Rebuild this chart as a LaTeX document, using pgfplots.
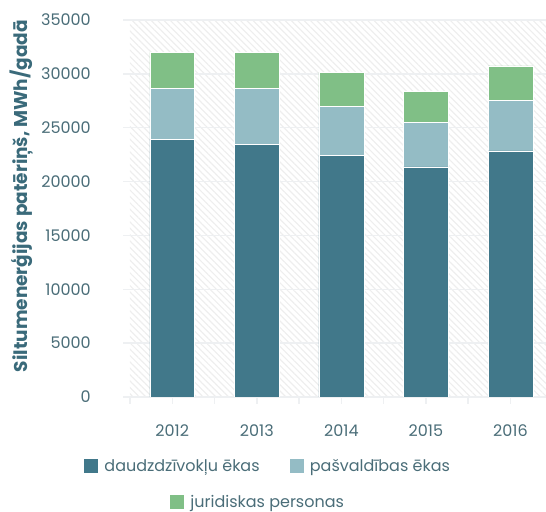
\documentclass[border=0pt]{standalone}
\usepackage{fontspec}
\setmainfont{Poppins}
\usepackage{pgfplots}
\pgfplotsset{compat=1.18}
\usetikzlibrary{patterns.meta}
\definecolor{cdark}{HTML}{41788A}
\definecolor{clight}{HTML}{94BCC5}
\definecolor{cgreen}{HTML}{80BF86}
\definecolor{gridgray}{HTML}{EEF0F2}
\definecolor{hatchgray}{HTML}{EEEEEE}
\definecolor{textcol}{HTML}{4A6D78}
\definecolor{labcol}{HTML}{3A6A7A}
\pgfplotsset{
  sqlegend/.style={legend image code/.code={\fill[##1,draw=none] (0pt,-7pt) rectangle (14pt,7pt); \path (18pt,0pt);}},
}
\begin{document}
\begin{tikzpicture}
\begin{axis}[
  name=main,
  scale only axis,
  width=416pt, height=377pt,
  ybar stacked,
  bar width=0.53,
  xmin=-0.5, xmax=4.42,
  ymin=0, ymax=35000,
  ytick={0,5000,...,35000},
  scaled y ticks=false,
  /pgf/number format/1000 sep={},
  /pgf/number format/assume math mode=true,
  axis lines*=left,
  y axis line style={draw=none},
  x axis line style={draw=gridgray, line width=1.5pt},
  tick align=outside,
  major tick length=7pt,
  ytick style={draw=gridgray, line width=1.5pt},
  xtick={-0.5,0.5,1.5,2.5,3.5},
  xticklabels={},
  xtick style={draw=gridgray, line width=1.5pt},
  extra x ticks={0,1,2,3,4},
  extra x tick labels={2012,2013,2014,2015,2016},
  extra x tick style={tick style={draw=none}, grid=none},
  ymajorgrids,
  grid style={draw=gridgray, line width=1.5pt},
  axis background/.style={pattern={Lines[angle=-45,distance=4.5pt,line width=1.2pt]}, pattern color=hatchgray},
  yticklabel style={font=\fontsize{16}{19}\selectfont, text=textcol, inner sep=0pt, xshift=-32pt},
  xticklabel style={font=\fontsize{16}{19}\selectfont, text=textcol, yshift=-17pt},
  ylabel={Siltumenerģijas patēriņš, MWh/gadā},
  ylabel style={at={(axis description cs:-0.2596,0.533)}, anchor=center, font=\bfseries\fontsize{18.5}{22}\selectfont, text=labcol},
  legend columns=2,
  legend style={at={(axis description cs:0,0)}, anchor=north west, xshift=-46pt, yshift=-60pt, draw=none, fill=none, inner sep=0pt,
    font=\fontsize{16}{19}\selectfont, text=textcol,
    /tikz/every even column/.append style={column sep=28pt}},
]
\addplot[fill=cdark, draw=white, line width=0.5pt, sqlegend] coordinates {(0,23950) (1,23480) (2,22450) (3,21370) (4,22860)};
\addplot[fill=clight, draw=white, line width=0.5pt, sqlegend] coordinates {(0,4690) (1,5160) (2,4510) (3,4100) (4,4690)};
\addplot[fill=cgreen, draw=white, line width=0.5pt, sqlegend, forget plot] coordinates {(0,3360) (1,3360) (2,3170) (3,2920) (4,3200)};
\addlegendentry{daudzdzīvokļu ēkas}
\addlegendentry{pašvaldības ēkas}
\end{axis}
\begin{axis}[
  at={(main.south west)}, anchor=south west,
  scale only axis, width=416pt, height=377pt,
  hide axis, xmin=0, xmax=1, ymin=0, ymax=1,
  legend style={at={(axis description cs:0,0)}, anchor=north west, xshift=40pt, yshift=-96pt, draw=none, fill=none, inner sep=0pt,
    font=\fontsize{16}{19}\selectfont, text=textcol},
]
\addlegendimage{fill=cgreen, sqlegend}
\addlegendentry{juridiskas personas}
\end{axis}
\pgfresetboundingbox
\path (main.south west) +(-130pt,-115pt) (main.north east) +(0pt,20pt);
\end{tikzpicture}
\end{document}
